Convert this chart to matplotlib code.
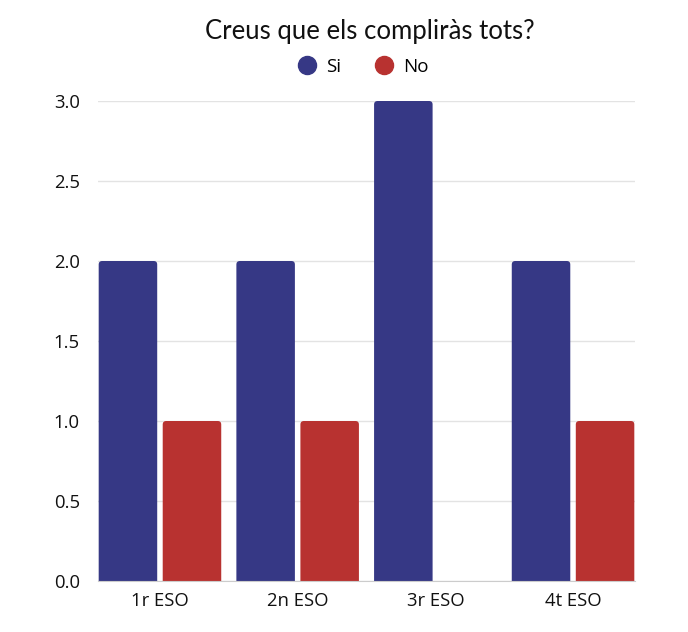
import matplotlib
matplotlib.use("Agg")
import matplotlib.pyplot as plt
from matplotlib.patches import FancyBboxPatch
from matplotlib.lines import Line2D
import numpy as np

categories = ["1r ESO", "2n ESO", "3r ESO", "4t ESO"]
series_names = ["Si", "No"]
si_values = [2, 2, 3, 2]
no_values = [1, 1, 0, 1]
colors = ["#363885", "#B83230"]
yticks = [0.0, 0.5, 1.0, 1.5, 2.0, 2.5, 3.0]

plt.rcParams['font.family'] = ['Open Sans', 'DejaVu Sans']

fig = plt.figure(figsize=(6.88, 6.32), dpi=100)
ax = fig.add_axes([98/688, 51/632, (635-98)/688, (581-101)/632])
ax.set_xlim(-0.45, 3.45)
ax.set_ylim(0, 3)

x = np.arange(len(categories))
bw = 0.425
offsets = [-0.2325, 0.2325]
px_per_x = (635-98)/3.9
px_per_y = (581-101)/3.0
rx = 3.5/px_per_x
ry = 3.5/px_per_y
for vals, off, col in zip([si_values, no_values], offsets, colors):
    bars = ax.bar(x + off, vals, width=bw, color=col, alpha=0)
    for b in bars:
        h = b.get_height()
        if h <= 0:
            continue
        p = FancyBboxPatch((b.get_x(), -0.1), b.get_width(), h + 0.1,
                           boxstyle=f"round,pad=0,rounding_size={rx}",
                           mutation_aspect=ry/rx,
                           facecolor=col, edgecolor="none", zorder=3)
        ax.add_patch(p)

ax.set_yticks(yticks)
ax.set_yticklabels([f"{v:.1f}" for v in yticks])
ax.set_xticks(x)
ax.set_xticklabels(categories)
ax.tick_params(axis='both', length=0, labelsize=13.3, colors="#111111")
ax.tick_params(axis='y', pad=13)
ax.tick_params(axis='x', pad=8)
ax.grid(axis='y', color="#e3e3e3", linewidth=1, zorder=0)
ax.set_axisbelow(True)
for s in ["top", "right", "left"]:
    ax.spines[s].set_visible(False)
ax.spines["bottom"].set_color("#cccccc")
ax.spines["bottom"].set_zorder(4)

fig.text(370/688, 1 - 32/632, "Creus que els compliràs tots?", ha="center", va="center",
         fontsize=18.5, family=["Lato", "DejaVu Sans"], color="#111111")

handles = [Line2D([], [], marker="o", linestyle="none", markersize=13,
                  markerfacecolor=c, markeredgecolor=c) for c in colors]
fig.legend(handles, series_names, loc="center", bbox_to_anchor=(363/688, 1 - 67/632),
           ncol=2, frameon=False, fontsize=13.5, handletextpad=0.5, columnspacing=1.8,
           handlelength=1.0)

fig.savefig("out.png", dpi=100, facecolor="white")
